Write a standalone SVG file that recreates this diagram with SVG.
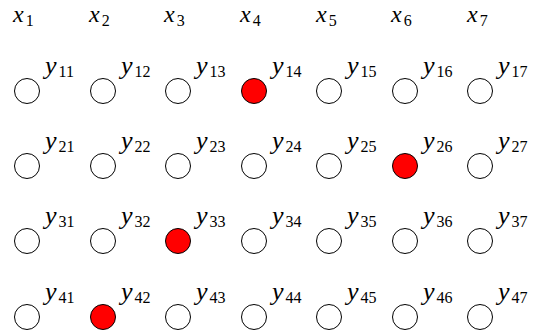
<svg xmlns="http://www.w3.org/2000/svg" width="534" height="334" viewBox="0 0 534 334">
<style>
.v{font-family:"Liberation Serif","Times New Roman",serif;font-size:26px;font-style:italic;fill:#000}
.h{font-size:24px}
.s{font-style:normal;font-size:16px}
.n{fill:#fff;stroke:#000;stroke-width:1}
.r{fill:#ff0000;stroke:#000;stroke-width:1}
</style>
<g id="header">
<text class="v h" x="13" y="22">x<tspan class="s" dx="2" dy="4">1</tspan></text>
<text class="v h" x="89" y="22">x<tspan class="s" dx="2" dy="4">2</tspan></text>
<text class="v h" x="164" y="22">x<tspan class="s" dx="2" dy="4">3</tspan></text>
<text class="v h" x="240" y="22">x<tspan class="s" dx="2" dy="4">4</tspan></text>
<text class="v h" x="316" y="22">x<tspan class="s" dx="2" dy="4">5</tspan></text>
<text class="v h" x="391" y="22">x<tspan class="s" dx="2" dy="4">6</tspan></text>
<text class="v h" x="467" y="22">x<tspan class="s" dx="2" dy="4">7</tspan></text>
</g>
<g id="connectors"></g>
<g id="row1">
<g id="n11"><circle class="n" cx="27" cy="91" r="12.5"/><text class="v" x="45" y="74">y<tspan class="s" dx="2" dy="3">11</tspan></text></g>
<g id="n12"><circle class="n" cx="103" cy="91" r="12.5"/><text class="v" x="121" y="74">y<tspan class="s" dx="2" dy="3">12</tspan></text></g>
<g id="n13"><circle class="n" cx="178" cy="91" r="12.5"/><text class="v" x="196" y="74">y<tspan class="s" dx="2" dy="3">13</tspan></text></g>
<g id="n14"><circle class="r" cx="254" cy="91" r="12.5"/><text class="v" x="272" y="74">y<tspan class="s" dx="2" dy="3">14</tspan></text></g>
<g id="n15"><circle class="n" cx="329" cy="91" r="12.5"/><text class="v" x="347" y="74">y<tspan class="s" dx="2" dy="3">15</tspan></text></g>
<g id="n16"><circle class="n" cx="405" cy="91" r="12.5"/><text class="v" x="423" y="74">y<tspan class="s" dx="2" dy="3">16</tspan></text></g>
<g id="n17"><circle class="n" cx="480" cy="91" r="12.5"/><text class="v" x="498" y="74">y<tspan class="s" dx="2" dy="3">17</tspan></text></g>
</g>
<g id="row2">
<g id="n21"><circle class="n" cx="27" cy="166" r="12.5"/><text class="v" x="45" y="149">y<tspan class="s" dx="2" dy="3">21</tspan></text></g>
<g id="n22"><circle class="n" cx="103" cy="166" r="12.5"/><text class="v" x="121" y="149">y<tspan class="s" dx="2" dy="3">22</tspan></text></g>
<g id="n23"><circle class="n" cx="178" cy="166" r="12.5"/><text class="v" x="196" y="149">y<tspan class="s" dx="2" dy="3">23</tspan></text></g>
<g id="n24"><circle class="n" cx="254" cy="166" r="12.5"/><text class="v" x="272" y="149">y<tspan class="s" dx="2" dy="3">24</tspan></text></g>
<g id="n25"><circle class="n" cx="329" cy="166" r="12.5"/><text class="v" x="347" y="149">y<tspan class="s" dx="2" dy="3">25</tspan></text></g>
<g id="n26"><circle class="r" cx="405" cy="166" r="12.5"/><text class="v" x="423" y="149">y<tspan class="s" dx="2" dy="3">26</tspan></text></g>
<g id="n27"><circle class="n" cx="480" cy="166" r="12.5"/><text class="v" x="498" y="149">y<tspan class="s" dx="2" dy="3">27</tspan></text></g>
</g>
<g id="row3">
<g id="n31"><circle class="n" cx="27" cy="241" r="12.5"/><text class="v" x="45" y="224">y<tspan class="s" dx="2" dy="3">31</tspan></text></g>
<g id="n32"><circle class="n" cx="103" cy="241" r="12.5"/><text class="v" x="121" y="224">y<tspan class="s" dx="2" dy="3">32</tspan></text></g>
<g id="n33"><circle class="r" cx="178" cy="241" r="12.5"/><text class="v" x="196" y="224">y<tspan class="s" dx="2" dy="3">33</tspan></text></g>
<g id="n34"><circle class="n" cx="254" cy="241" r="12.5"/><text class="v" x="272" y="224">y<tspan class="s" dx="2" dy="3">34</tspan></text></g>
<g id="n35"><circle class="n" cx="329" cy="241" r="12.5"/><text class="v" x="347" y="224">y<tspan class="s" dx="2" dy="3">35</tspan></text></g>
<g id="n36"><circle class="n" cx="405" cy="241" r="12.5"/><text class="v" x="423" y="224">y<tspan class="s" dx="2" dy="3">36</tspan></text></g>
<g id="n37"><circle class="n" cx="480" cy="241" r="12.5"/><text class="v" x="498" y="224">y<tspan class="s" dx="2" dy="3">37</tspan></text></g>
</g>
<g id="row4">
<g id="n41"><circle class="n" cx="27" cy="317" r="12.5"/><text class="v" x="45" y="300">y<tspan class="s" dx="2" dy="3">41</tspan></text></g>
<g id="n42"><circle class="r" cx="103" cy="317" r="12.5"/><text class="v" x="121" y="300">y<tspan class="s" dx="2" dy="3">42</tspan></text></g>
<g id="n43"><circle class="n" cx="178" cy="317" r="12.5"/><text class="v" x="196" y="300">y<tspan class="s" dx="2" dy="3">43</tspan></text></g>
<g id="n44"><circle class="n" cx="254" cy="317" r="12.5"/><text class="v" x="272" y="300">y<tspan class="s" dx="2" dy="3">44</tspan></text></g>
<g id="n45"><circle class="n" cx="329" cy="317" r="12.5"/><text class="v" x="347" y="300">y<tspan class="s" dx="2" dy="3">45</tspan></text></g>
<g id="n46"><circle class="n" cx="405" cy="317" r="12.5"/><text class="v" x="423" y="300">y<tspan class="s" dx="2" dy="3">46</tspan></text></g>
<g id="n47"><circle class="n" cx="480" cy="317" r="12.5"/><text class="v" x="498" y="300">y<tspan class="s" dx="2" dy="3">47</tspan></text></g>
</g>
</svg>
